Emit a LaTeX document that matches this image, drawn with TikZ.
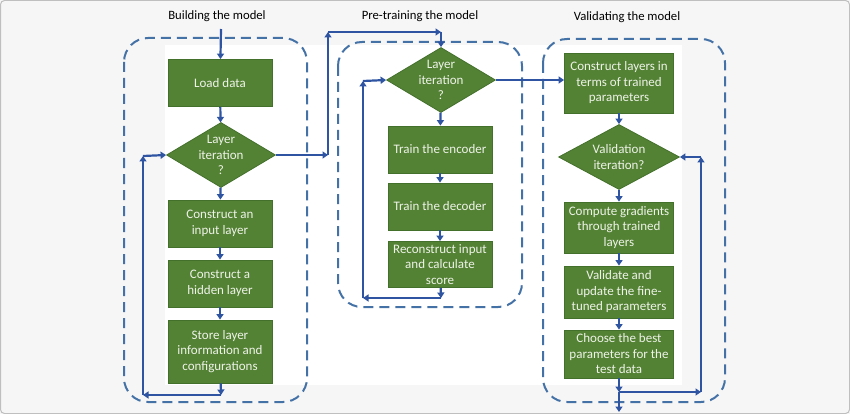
\documentclass[tikz,border=0pt]{standalone}
\usepackage{fontspec}
\setmainfont{Carlito}
\usetikzlibrary{shapes.geometric}
\usetikzlibrary{arrows.meta}
\definecolor{boxgreen}{HTML}{548235}
\definecolor{boxedge}{HTML}{43702B}
\definecolor{boxtext}{HTML}{EEF3E8}
\definecolor{flowblue}{HTML}{2F55A2}
\definecolor{frameblue}{HTML}{4472A6}
\definecolor{pagegray}{HTML}{F6F6F6}
\tikzset{
  stepbox/.style={draw=boxedge, fill=boxgreen, line width=0.8pt, text=boxtext,
    minimum width=104pt, minimum height=47pt, align=center, inner sep=1pt,
    font=\fontsize{13}{15.5}\selectfont},
  decision/.style={diamond, draw=boxedge, fill=boxgreen, line width=0.8pt,
    minimum width=109pt, minimum height=65pt, inner sep=0pt},
  decisiontext/.style={text=boxtext, align=center, font=\fontsize{13}{15.5}\selectfont},
  stage/.style={draw=frameblue, line width=2pt, dash pattern=on 10pt off 6pt,
    rounded corners=24pt},
  flow/.style={draw=flowblue, line width=2.2pt, -{Triangle[length=5.5pt,width=7pt]}},
  heading/.style={font=\fontsize{12.7}{15}\selectfont}
}
\begin{document}
\begin{tikzpicture}[x=1pt,y=-1pt]
  \useasboundingbox (0,0) rectangle (850,414);
  \fill[pagegray] (0,0) rectangle (850,414);
  \draw[gray!50, line width=1pt, rounded corners=4pt] (0.5,0.5) rectangle (849.5,413.5);
  \fill[white] (165,45) rectangle (682,385);

  % headings
  \node[heading] (hbuild) at (217,16) {Building the model};
  \node[heading] (hpre) at (420,16) {Pre-training the model};
  \node[heading] (hval) at (627,17) {Validating the model};

  % dashed stages
  \draw[stage] (124,38) rectangle (307,402);
  \draw[stage] (338,42) rectangle (522,307);
  \draw[stage] (543,39) rectangle (725,402);

  % building the model
  \node[stepbox] (load) at (220,83) {Load data};
  \node[decision] (iterA) at (221,155) {};
  \node[decisiontext] (iterAtext) at (iterA) {Layer\\iteration\\?};
  \node[stepbox] (input) at (220,223.5) {Construct an\\input layer};
  \node[stepbox] (hidden) at (220,283.5) {Construct a\\hidden layer};
  \node[stepbox, minimum height=63pt] (store) at (220,351.5) {Store layer\\information and\\configurations};

  % pre-training the model
  \node[decision] (iterB) at (441,80) {};
  \node[decisiontext] (iterBtext) at (iterB) {Layer\\iteration\\?};
  \node[stepbox] (encoder) at (440,149.5) {Train the encoder};
  \node[stepbox] (decoder) at (440,206.5) {Train the decoder};
  \node[stepbox, minimum height=46pt] (recon) at (440,264.5) {Reconstruct input\\and calculate\\score};

  % validating the model
  \node[stepbox, minimum width=109pt, minimum height=60pt] (layers) at (619,83) {Construct layers in\\terms of trained\\parameters};
  \node[decision, minimum width=121pt] (valid) at (619,157) {};
  \node[decisiontext] (validtext) at (valid) {Validation\\iteration?};
  \node[stepbox, minimum width=109pt, minimum height=51pt] (grad) at (619,227.5) {Compute gradients\\through trained\\layers};
  \node[stepbox, minimum width=109pt, minimum height=52pt] (update) at (619,292) {Validate and\\update the fine-\\tuned parameters};
  \node[stepbox, minimum width=109pt, minimum height=48pt] (best) at (619,354) {Choose the best\\parameters for the\\test data};

  % bend points
  \coordinate (start) at (221,29);
  \coordinate (a1) at (221,395);
  \coordinate (a2) at (143,395);
  \coordinate (a3) at (143,156);
  \coordinate (b1) at (328,155);
  \coordinate (b2) at (328,32);
  \coordinate (b3) at (441,32);
  \coordinate (c1) at (441,298);
  \coordinate (c2) at (363,298);
  \coordinate (c3) at (363,81);
  \coordinate (d1) at (619,392);
  \coordinate (d2) at (701,392);
  \coordinate (d3) at (701,157);
  \coordinate (finish) at (619,412);

  % connectors
  \draw[flow] (start) -- (load);
  \draw[flow] (load) -- (iterA);
  \draw[flow] (iterA) -- (input);
  \draw[flow] (input) -- (hidden);
  \draw[flow] (hidden) -- (store);
  \draw[flow] (store) -- (a1);
  \draw[flow] (a1) -- (a2);
  \draw[flow] (a2) -- (a3);
  \draw[flow] (a3) -- (iterA.west);
  \draw[flow] (iterA.east) -- (b1);
  \draw[flow] (b1) -- (b2);
  \draw[flow] (b2) -- (b3);
  \draw[flow] (b3) -- (iterB.north);
  \draw[flow] (iterB) -- (encoder);
  \draw[flow] (encoder) -- (decoder);
  \draw[flow] (decoder) -- (recon);
  \draw[flow] (recon) -- (c1);
  \draw[flow] (c1) -- (c2);
  \draw[flow] (c2) -- (c3);
  \draw[flow] (c3) -- (iterB.west);
  \draw[flow] (iterB.east) -- (iterB.east -| layers.west);
  \draw[flow] (layers) -- (valid);
  \draw[flow] (valid) -- (grad);
  \draw[flow] (grad) -- (update);
  \draw[flow] (update) -- (best);
  \draw[flow] (best) -- (d1);
  \draw[flow] (d1) -- (d2);
  \draw[flow] (d2) -- (d3);
  \draw[flow] (d3) -- (valid.east);
  \draw[flow] (d1) -- (finish);
\end{tikzpicture}
\end{document}
